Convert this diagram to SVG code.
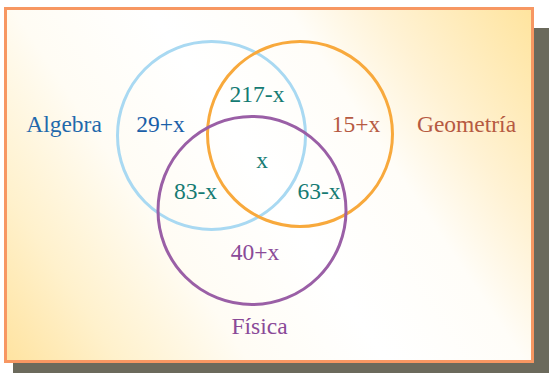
<svg xmlns="http://www.w3.org/2000/svg" width="549" height="373" viewBox="0 0 549 373">
<defs>
<linearGradient id="bg" gradientUnits="userSpaceOnUse" x1="5" y1="362" x2="532" y2="8">
<stop offset="0" stop-color="#FFE3A0"/>
<stop offset="0.15" stop-color="#FFF1CC"/>
<stop offset="0.32" stop-color="#FFFCF4"/>
<stop offset="0.5" stop-color="#FFFFFF"/>
<stop offset="0.68" stop-color="#FFFDF8"/>
<stop offset="0.8" stop-color="#FFF2D4"/>
<stop offset="1" stop-color="#FFE49E"/>
</linearGradient>
</defs>
<style>
.c{fill:none;stroke-width:3}
text{font-family:"Liberation Serif","DejaVu Serif",serif;font-size:23.5px;text-anchor:middle}
.teal{fill:#157B73}
</style>
<rect x="13" y="28" width="536" height="345" fill="#6B6A5C"/>
<rect x="5.5" y="8.5" width="527" height="353" fill="url(#bg)" stroke="#F79762" stroke-width="3"/>
<g id="algebra">
<circle class="c" cx="211.5" cy="135.5" r="94" stroke="#A9D9F2"/>
<text x="64" y="132" fill="#1F69AC">Algebra</text>
</g>
<g id="geometria">
<circle class="c" cx="300" cy="134" r="92.5" stroke="#F8A93C"/>
<text x="466.5" y="132" fill="#B65A42">Geometría</text>
</g>
<g id="fisica">
<circle class="c" cx="252" cy="210.5" r="94" stroke="#9A5FA6"/>
<text x="259.5" y="334" fill="#8A4A98">Física</text>
</g>
<g id="regions">
<text x="160.5" y="132" fill="#1A5FA8">29+x</text>
<text x="356" y="132" fill="#B65A42">15+x</text>
<text x="257" y="102" class="teal">217-x</text>
<text x="262" y="168" class="teal">x</text>
<text x="195.5" y="199" class="teal">83-x</text>
<text x="319" y="199" class="teal">63-x</text>
<text x="255" y="259.5" fill="#8A4A98">40+x</text>
</g>
<g id="connectors"/>
</svg>
